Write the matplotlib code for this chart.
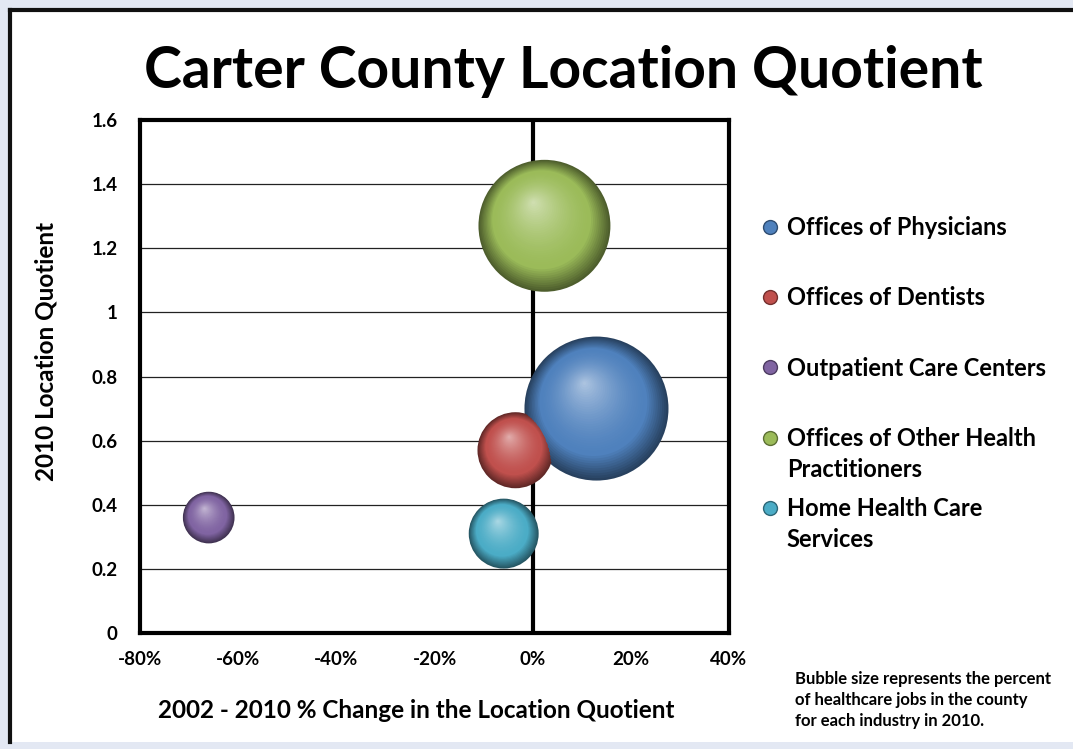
import numpy as np
import matplotlib.pyplot as plt
import matplotlib.transforms as mtransforms
from matplotlib.lines import Line2D
from matplotlib.colors import to_rgb

plt.rcParams['font.family'] = ['Lato', 'DejaVu Sans']
plt.rcParams['font.weight'] = 'bold'

# data
industries = ["Offices of Physicians", "Offices of Dentists", "Outpatient Care Centers",
              "Offices of Other Health", "Home Health Care"]
label_wrap = ["", "", "", "Practitioners", "Services"]
pct_change = [13.0, -3.5, -66.0, 2.4, -5.9]
lq_2010 = [0.70, 0.57, 0.36, 1.27, 0.31]
job_share = [28.0, 7.8, 3.6, 23.5, 6.6]
colors = ["#4f81bd", "#c0504d", "#8064a2", "#9bbb59", "#4bacc6"]

fig = plt.figure(figsize=(10.73, 7.49), dpi=100, facecolor="#e3e8f3")
# white panel with dark frame
fig.patches.append(plt.Rectangle((8 / 1073, 7 / 749), 1.1, 1 - 15 / 749, transform=fig.transFigure,
                                 facecolor="white", edgecolor="none", zorder=-5))
fig.lines.append(Line2D([9.5 / 1073, 9.5 / 1073], [7 / 749, 1 - 9.5 / 749], transform=fig.transFigure,
                        color="#111111", lw=3, zorder=-4))
fig.lines.append(Line2D([9.5 / 1073, 1.0], [1 - 9.5 / 749, 1 - 9.5 / 749], transform=fig.transFigure,
                        color="#111111", lw=3, zorder=-4))

ax = fig.add_axes([140 / 1073, 1 - 633 / 749, 589 / 1073, 513 / 749])
ax.set_xlim(-80, 40)
ax.set_ylim(0, 1.6)
ax.set_facecolor("white")

yt = [0, 0.2, 0.4, 0.6, 0.8, 1, 1.2, 1.4, 1.6]
ax.set_yticks(yt)
ax.set_yticklabels(["0", "0.2", "0.4", "0.6", "0.8", "1", "1.2", "1.4", "1.6"], fontsize=13.5, fontweight="bold")
xt = [-80, -60, -40, -20, 0, 20, 40]
ax.set_xticks(xt)
ax.set_xticklabels([f"{v}%" for v in xt], fontsize=13.5, fontweight="bold")
ax.tick_params(length=0, pad=13)
ax.tick_params(axis="y", pad=16)
ax.yaxis.grid(True, color="#222222", lw=0.9)
ax.set_axisbelow(True)
for sp in ax.spines.values():
    sp.set_linewidth(3)
    sp.set_color("black")
ax.axvline(0, color="black", lw=3, zorder=1)


def blend(c, target, f):
    c = np.array(to_rgb(c))
    return tuple(c + (np.array(target) - c) * f)


# shaded spheres
k = 384.0  # points^2 per percent
n = 40
for x, y, s, c in zip(pct_change, lq_2010, job_share, colors):
    size = s * k
    r = np.sqrt(size) / 2  # radius in points
    for i in range(n):
        t = i / n
        if t < 0.25:
            col = blend(c, (0, 0, 0), 0.5 * (1 - t / 0.25))
        else:
            col = blend(c, (1, 1, 1), 0.55 * ((t - 0.25) / 0.75) ** 1.6)
        off = mtransforms.offset_copy(ax.transData, fig=fig, x=-0.17 * r * t, y=0.36 * r * t, units="points")
        ax.scatter([x], [y], s=size * (1 - t) ** 2, color=col, edgecolors="none",
                   transform=off, zorder=3 + i * 0.001)

title = fig.suptitle("Carter County Location Quotient", x=0.525, y=0.94, fontsize=41, fontweight="bold")
ax.set_xlabel("2002 - 2010 % Change in the Location Quotient", fontsize=17.5, fontweight="bold")
ax.xaxis.set_label_coords(0.469, -0.128)
ax.set_ylabel("2010 Location Quotient", fontsize=17.5, fontweight="bold")
ax.yaxis.set_label_coords(-0.14, 0.548)

handles = [Line2D([], [], marker="o", ls="none", markersize=10, markerfacecolor=c,
                  markeredgecolor=blend(c, (0, 0, 0), 0.4)) for c in colors]
leg = fig.legend(handles, industries, loc="upper left", bbox_to_anchor=(735 / 1073, 1 - 195 / 749),
                 frameon=False, fontsize=17, handletextpad=0.1, labelspacing=2.0, handlelength=1.2)
for t, extra in zip(leg.get_texts(), label_wrap):
    t.set_fontweight("bold")
    if extra:
        fig.add_artist(plt.Annotation(extra, xy=(0, 0), xycoords=t, xytext=(0, -22.5),
                                      textcoords="offset points", ha="left", va="bottom",
                                      fontsize=17, fontweight="bold", zorder=10))

fig.text(795 / 1073, 1 - 671 / 749,
         "Bubble size represents the percent\nof healthcare jobs in the county\nfor each industry in 2010.",
         fontsize=12, fontweight="bold", va="top", linespacing=1.4)

fig.savefig("out.png", dpi=100, facecolor=fig.get_facecolor())
